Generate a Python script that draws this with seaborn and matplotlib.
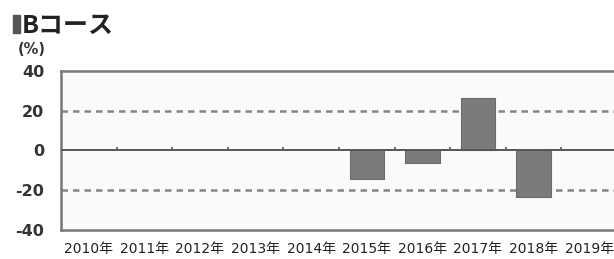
import numpy as np
import matplotlib
matplotlib.use("Agg")
import matplotlib.pyplot as plt
from matplotlib.patches import Rectangle
import seaborn as sns

# values (no bars before 2015)
years = ['2010年', '2011年', '2012年', '2013年', '2014年',
         '2015年', '2016年', '2017年', '2018年', '2019年']
change_pct = [np.nan, np.nan, np.nan, np.nan, np.nan,
              -14.4, -6.3, 26.4, -23.2, np.nan]
y_ticks = [-40, -20, 0, 20, 40]
title = 'Bコース'
unit = '(%)'

sns.set_theme(style='white')
plt.rcParams['font.family'] = ['DejaVu Sans', 'Noto Sans CJK JP']

fig = plt.figure(figsize=(6.14, 2.59), dpi=100)
ax = fig.add_axes([0.0993, 0.112, 0.9055, 0.614])
ax.set_facecolor('#fafafa')

sns.barplot(x=years, y=change_pct, order=years, color='#7b7b7b',
            edgecolor='#6a6a6a', linewidth=0.8, width=0.62, saturation=1, ax=ax)

ax.set_ylim(-40, 40)
ax.set_xlim(-0.5, len(years) - 0.5)
ax.set_yticks(y_ticks)
ax.set_yticklabels([str(v) for v in y_ticks], fontsize=11.5, fontweight='bold', color='#333333')
ax.set_xticks(range(len(years)))
ax.set_xticklabels(years, fontsize=10, color='#222222')
ax.tick_params(axis='y', length=0, pad=12)
ax.tick_params(axis='x', length=0, pad=9)
ax.set_xlabel('')
ax.set_ylabel('')

# dashed reference lines and zero line
for v in (20, -20):
    ax.axhline(v, color='#858585', lw=1.8, ls=(0, (2.6, 2)), zorder=0.5)
ax.axhline(0, color='#555555', lw=1.4, zorder=3)
# small category separators on the zero line
ax.vlines(np.arange(1, len(years)) - 0.5, 0, 2.0, color='#555555', lw=1.2, zorder=3)

for side in ['left', 'top', 'bottom', 'right']:
    ax.spines[side].set_color('#777777')
    ax.spines[side].set_linewidth(1.8)

fig.patches.append(Rectangle((0.0207, 0.873), 0.012, 0.0695, transform=fig.transFigure,
                             color='#555555', figure=fig))
fig.text(0.036, 0.9, title, fontsize=18, fontweight='bold', color='#222222',
         va='center', ha='left', family=['Noto Sans CJK JP', 'DejaVu Sans'])
fig.text(0.052, 0.807, unit, fontsize=10.5, fontweight='bold', color='#333333',
         va='center', ha='center')

fig.savefig('out.png', dpi=100)
